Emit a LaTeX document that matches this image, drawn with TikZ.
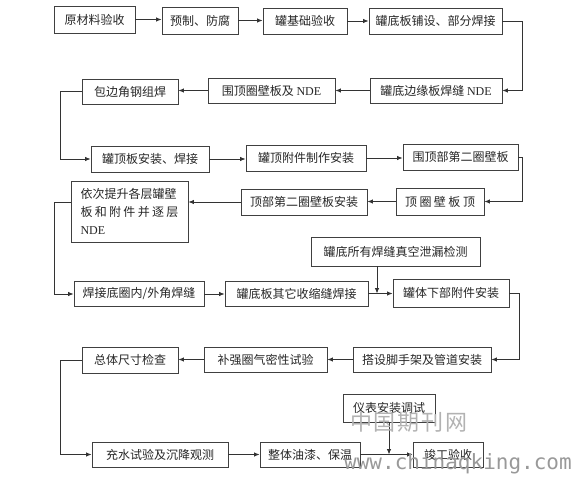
\documentclass[tikz,border=0pt]{standalone}
\usepackage{fontspec}
\setmainfont{Liberation Serif}
\newfontfamily\cjk{Noto Sans CJK SC}
\newfontfamily\wmmono{DejaVu Sans Mono}
\usetikzlibrary{arrows.meta}

\begin{document}
\begin{tikzpicture}[x=1bp, y=-1bp, >={Latex[length=5.5bp,width=4.5bp]},
	box/.style 2 args={draw=black!75, line width=0.9bp, inner sep=0pt, minimum width=#1, minimum height=#2,
		font=\cjk\fontsize{12bp}{14bp}\selectfont, text=black!85},
	flow/.style={->, draw=black!80, line width=0.8bp},
	wmark/.style={inner sep=0pt, text=black!40}]
	\useasboundingbox (0,0) rectangle (576,479);

	% row 1
	\node[box={81bp}{27bp}] (a1) at (94.5,19.5) {原材料验收};
	\node[box={76bp}{27bp}] (a2) at (200,20.5) {预制、防腐};
	\node[box={84bp}{26bp}] (a3) at (305,21) {罐基础验收};
	\node[box={133bp}{26bp}] (a4) at (435.5,21) {罐底板铺设、部分焊接};

	% row 2
	\node[box={132bp}{25bp}] (b1) at (436,90.5) {罐底边缘板焊缝 {\rmfamily NDE}};
	\node[box={127bp}{25bp}] (b2) at (271.5,90.5) {围顶圈壁板及 {\rmfamily NDE}};
	\node[box={96bp}{25bp}] (b3) at (130,91.5) {包边角钢组焊};

	% row 3
	\node[box={118bp}{26bp}] (c1) at (150,159) {罐顶板安装、焊接};
	\node[box={120bp}{26bp}] (c2) at (306,158) {罐顶附件制作安装};
	\node[box={115bp}{26bp}] (c3) at (460.5,157) {围顶部第二圈壁板};

	% row 4
	\node[box={88bp}{27bp}] (d1) at (440,201.5) {顶\hspace{2.5bp}圈\hspace{2.5bp}壁\hspace{2.5bp}板\hspace{2.5bp}顶};
	\node[box={126bp}{26bp}] (d2) at (304,202) {顶部第二圈壁板安装};
	\node[box={117bp}{61bp}, text width=98bp, align=left, font=\cjk\fontsize{12bp}{18bp}\selectfont] (d3) at (129.5,211.5)
		{依次提升各层罐壁\\\makebox[98bp][s]{板\hfill 和\hfill 附\hfill 件\hfill 并\hfill 逐\hfill 层}\\{\rmfamily NDE}};

	% row 5
	\node[box={169bp}{29bp}] (e0) at (395.5,251.5) {罐底所有焊缝真空泄漏检测};
	\node[box={130bp}{25bp}] (e1) at (139,294) {焊接底圈内/外角焊缝};
	\node[box={143bp}{25bp}] (e2) at (296.5,293.5) {罐底板其它收缩缝焊接};
	\node[box={116bp}{28bp}] (e3) at (451,293) {罐体下部附件安装};

	% row 6
	\node[box={138bp}{25bp}] (f1) at (422,359.5) {搭设脚手架及管道安装};
	\node[box={123bp}{25bp}] (f2) at (265.5,359.5) {补强圈气密性试验};
	\node[box={96bp}{26bp}] (f3) at (130,360) {总体尺寸检查};

	% row 7
	\node[box={92bp}{28bp}] (g0) at (389,408) {仪表安装调试};
	\node[box={136bp}{25bp}] (g1) at (160,454.5) {充水试验及沉降观测};
	\node[box={100bp}{25bp}] (g2) at (310,454.5) {整体油漆、保温};
	\node[box={70bp}{25bp}] (g3) at (448,454.5) {竣工验收};

	% connectors
	\draw[flow] (a1.east) -- (a1.east -| a2.west);
	\draw[flow] (a2.east) -- (a2.east -| a3.west);
	\draw[flow] (a3.east) -- (a3.east -| a4.west);
	\draw[flow] (a4.east) -- ++(20,0) |- (b1.east);
	\draw[flow] (b1.west) -- (b1.west -| b2.east);
	\draw[flow] (b2.west) -- (b2.west -| b3.east);
	\draw[flow] (b3.west) -- ++(-21,0) |- (c1.west);
	\draw[flow] (c1.east) -- (c1.east -| c2.west);
	\draw[flow] (c2.east) -- (c2.east -| c3.west);
	\draw[flow] (c3.east) -- ++(4,0) |- (d1.east);
	\draw[flow] (d1.west) -- (d1.west -| d2.east);
	\draw[flow] (d2.west) -- (d2.west -| d3.east);
	\draw[flow] (d3.west |- d2.west) -- ++(-16,0) |- (e1.west);
	\draw[flow] (e1.east) -- (e1.east -| e2.west);
	\draw[flow] (e2.east) -- (e2.east -| e3.west);
	\draw[flow] ([xshift=-18.5bp]e0.south) -- ([xshift=-18.5bp]e0.south |- e2.east);
	\draw[flow] (e3.east) -- ++(10,0) |- (f1.east);
	\draw[flow] (f1.west) -- (f1.west -| f2.east);
	\draw[flow] (f2.west) -- (f2.west -| f3.east);
	\draw[flow] (f3.west) -- ++(-21,0) |- (g1.west);
	\draw[flow] (g1.east) -- (g1.east -| g2.west);
	\draw[flow] (g2.east) -- (g2.east -| g3.west);
	\draw[flow] (g0.south) -- (g0.south |- g2.east);

	% watermark
	\node[wmark, text=black!30, font=\cjk\fontsize{22bp}{22bp}\selectfont] (wm1) at (409,422) {中\hspace{2bp}国\hspace{2bp}期\hspace{2bp}刊\hspace{2bp}网};
	\node[wmark, anchor=base west, font=\wmmono\fontsize{21bp}{21bp}\selectfont] (wm2) at (344,469) {www.chinaqking.com};
\end{tikzpicture}
\end{document}
